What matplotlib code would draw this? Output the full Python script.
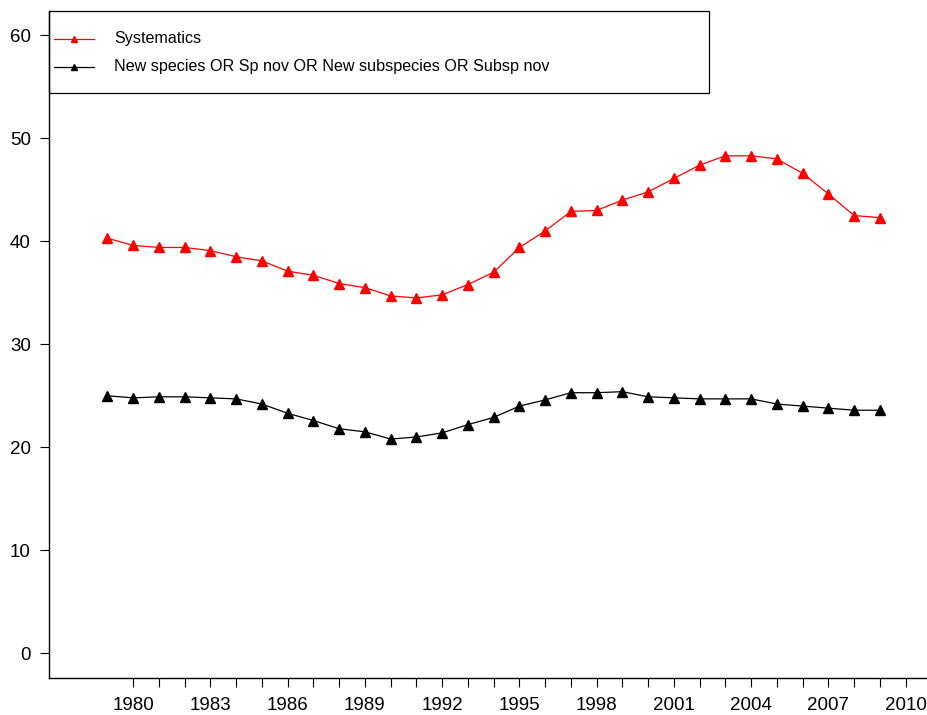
import matplotlib.pyplot as plt
from matplotlib.lines import Line2D
from matplotlib.patches import Rectangle

plt.rcParams['font.family'] = ['Liberation Sans', 'DejaVu Sans']

# Годы и значения двух рядов
years = list(range(1979, 2010))
systematics = [40.3, 39.6, 39.4, 39.4, 39.1, 38.5, 38.1, 37.1, 36.7, 35.9,
               35.5, 34.7, 34.5, 34.8, 35.8, 37.0, 39.4, 41.0, 42.9, 43.0,
               44.0, 44.8, 46.1, 47.4, 48.3, 48.3, 48.0, 46.6, 44.6, 42.5,
               42.3]
new_species = [25.0, 24.8, 24.9, 24.9, 24.8, 24.7, 24.2, 23.3, 22.6, 21.8,
               21.5, 20.8, 21.0, 21.4, 22.2, 22.9, 24.0, 24.6, 25.3, 25.3,
               25.4, 24.9, 24.8, 24.7, 24.7, 24.7, 24.2, 24.0, 23.8, 23.6,
               23.6]
labels = ['Systematics', 'New species OR Sp nov OR New subspecies OR Subsp nov']
colors = ['red', 'black']
xtick_years = list(range(1980, 2011, 3))
ytick_values = [0, 10, 20, 30, 40, 50, 60]

W, H = 928, 715
fig = plt.figure(figsize=(W / 100, H / 100), dpi=100)
ax = fig.add_axes([49 / W, 1 - 678 / H, 1 - 49 / W, (678 - 11) / H])

for vals, c in zip([systematics, new_species], colors):
    ax.plot(years, vals, color=c, lw=0.9, marker='^', ms=7)

ax.set_xlim(1976.73, 2010.87)
ax.set_ylim(-2.4, 62.36)

ax.set_xticks(xtick_years)
ax.set_xticks(range(1980, 2011), minor=True)
ax.set_yticks(ytick_values)
ax.tick_params(axis='both', which='both', direction='out', length=6.5,
               width=0.8, labelsize=13.5, colors='black')
ax.tick_params(axis='x', pad=7)
ax.tick_params(axis='y', pad=6.5)

for side in ['top', 'right']:
    ax.spines[side].set_visible(False)
for side in ['left', 'bottom']:
    ax.spines[side].set_linewidth(1.0)

# Легенда в стиле R: рамка от левой оси, две строки
leg_right = 660 / 879
leg_bottom = 1 - (92.7 - 11) / 667
ax.add_patch(Rectangle((0, leg_bottom), leg_right, 1 - leg_bottom,
                       transform=ax.transAxes, fill=False, ec='black',
                       lw=0.9, clip_on=False, zorder=5))
rows_y = [1 - 28 / 667, 1 - 55.7 / 667]
for lab, c, ry in zip(labels, colors, rows_y):
    ax.add_line(Line2D([5 / 879, 45 / 879], [ry, ry], color=c, lw=0.9,
                       transform=ax.transAxes, clip_on=False))
    ax.add_line(Line2D([25 / 879], [ry], color=c, marker='^', ms=5,
                       transform=ax.transAxes, clip_on=False))
    ax.text(65 / 879, ry, lab, transform=ax.transAxes, fontsize=11.6,
            va='center', ha='left')

fig.savefig('out.png', dpi=100)
